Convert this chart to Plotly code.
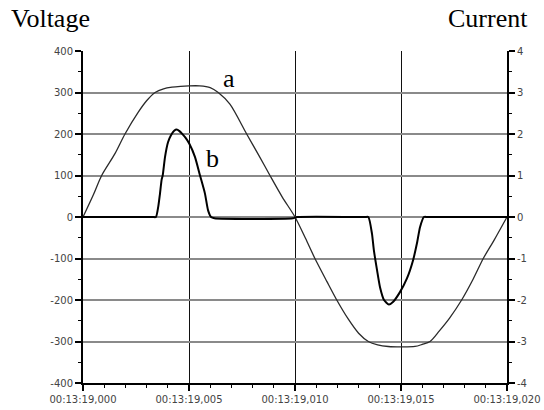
import plotly.graph_objects as go

# time in ms after 00:13:19,000
volt_t = [0, 0.5, 0.88, 1.5, 1.98, 2.6, 3.0, 3.4, 3.8, 4.2, 4.6, 5.0, 5.5, 6.0, 6.38, 6.93,
          7.72, 8.3, 8.82, 9.4, 10.0, 10.5, 10.94, 11.5, 11.97, 12.5, 13.0, 13.46, 13.9,
          14.4, 15.0, 15.66, 16.0, 16.37, 16.8, 17.3, 17.86, 18.4, 18.88, 19.4, 20.0]
volt_v = [0, 55, 100, 152, 200, 252, 280, 300, 309, 313, 315, 316, 316, 312, 300, 272,
          200, 148, 100, 48, 0, -52, -100, -155, -200, -245, -280, -300, -308,
          -312, -313, -312, -307, -300, -275, -243, -200, -150, -100, -55, 0]

curr_t = [0, 3.3, 3.44, 3.55, 3.63, 3.71, 3.76, 3.87, 4.01, 4.15, 4.3, 4.42, 4.55, 4.67,
          4.85, 5.01, 5.28, 5.52, 5.75, 5.9, 6.04, 6.2, 9.9, 10.1, 13.3, 13.46, 13.63,
          13.72, 13.87, 14.01, 14.2, 14.43, 14.62, 14.95, 15.28, 15.57, 15.75, 15.9,
          16.08, 16.25, 20.0]
curr_a = [0, 0, 0, 0.25, 0.56, 0.9, 1.0, 1.45, 1.8, 1.97, 2.08, 2.11, 2.07, 2.01,
          1.9, 1.77, 1.45, 1.0, 0.57, 0.16, 0, -0.03, -0.03, 0, 0, 0, -0.4,
          -0.8, -1.28, -1.69, -2.0, -2.11, -2.05, -1.81, -1.48, -1.04, -0.64, -0.24,
          0, 0, 0]

x_tickvals = [0, 5, 10, 15, 20]
x_ticktext = ["00:13:19,000", "00:13:19,005", "00:13:19,010", "00:13:19,015", "00:13:19,020"]
v_ticks = [-400, -300, -200, -100, 0, 100, 200, 300, 400]
v_ticktext = ["-400", "-300", "-200", "-100", "0", "100", "200", "300", "400"]
i_ticks = [-4, -3, -2, -1, 0, 1, 2, 3, 4]
i_ticktext = ["-4", "-3", "-2", "-1", "0", "1", "2", "3", "4"]

tickfont = dict(family="DejaVu Sans", size=10, color="#444444")

fig = go.Figure()
fig.add_trace(go.Scatter(x=volt_t, y=volt_v, mode="lines", name="a",
                         line=dict(color="#2a2a2a", width=1.3, shape="spline", smoothing=0.8)))
fig.add_trace(go.Scatter(x=curr_t, y=curr_a, mode="lines", name="b", yaxis="y2",
                         line=dict(color="#000000", width=2, shape="spline", smoothing=0.6)))

fig.update_layout(
    width=544, height=410,
    margin=dict(l=83, r=37, t=51, b=27),
    paper_bgcolor="white", plot_bgcolor="white",
    showlegend=False,
    xaxis=dict(range=[0, 20], tickvals=x_tickvals, ticktext=x_ticktext, automargin=False,
               showgrid=True, gridcolor="#111111", gridwidth=1,
               zeroline=False, showline=True, linecolor="black", linewidth=2,
               ticks="outside", ticklen=6, tickwidth=1.5, tickcolor="black",
               tickfont=tickfont,
               minor=dict(dtick=1, tick0=0, ticklen=3, tickcolor="black", tickwidth=1, showgrid=False)),
    yaxis=dict(range=[-400, 400], tickvals=v_ticks, ticktext=v_ticktext, automargin=False,
               showgrid=True, gridcolor="#8a8a8a", gridwidth=1.5,
               zeroline=False, showline=True, linecolor="black", linewidth=2,
               ticks="outside", ticklen=6, tickwidth=1.5, tickcolor="black",
               tickfont=tickfont,
               minor=dict(dtick=50, tick0=0, ticklen=3, tickcolor="black", tickwidth=1, showgrid=False)),
    yaxis2=dict(range=[-4, 4], tickvals=i_ticks, ticktext=i_ticktext, automargin=False,
                overlaying="y", side="right",
                showgrid=False, zeroline=False, showline=True, linecolor="black", linewidth=2,
                ticks="outside", ticklen=6, tickwidth=1.5, tickcolor="black",
                tickfont=tickfont,
                minor=dict(dtick=0.5, tick0=0, ticklen=3, tickcolor="black", tickwidth=1)),
    annotations=[
        dict(text="Voltage", xref="paper", yref="paper", x=-0.1745, y=1.098,
             xanchor="left", yanchor="middle", showarrow=False,
             font=dict(family="Liberation Serif", size=26, color="black")),
        dict(text="Current", xref="paper", yref="paper", x=1.054, y=1.098,
             xanchor="right", yanchor="middle", showarrow=False,
             font=dict(family="Liberation Serif", size=26, color="black")),
        dict(text="a", xref="x", yref="y", x=6.89, y=334, showarrow=False,
             font=dict(family="Liberation Serif", size=26, color="black")),
        dict(text="b", xref="x", yref="y", x=6.13, y=141, showarrow=False,
             font=dict(family="Liberation Serif", size=26, color="black")),
    ],
)

fig.write_html("out.html",
               config={"displayModeBar": False},
               post_script="document.body.style.margin='0';document.body.style.overflow='hidden';")
